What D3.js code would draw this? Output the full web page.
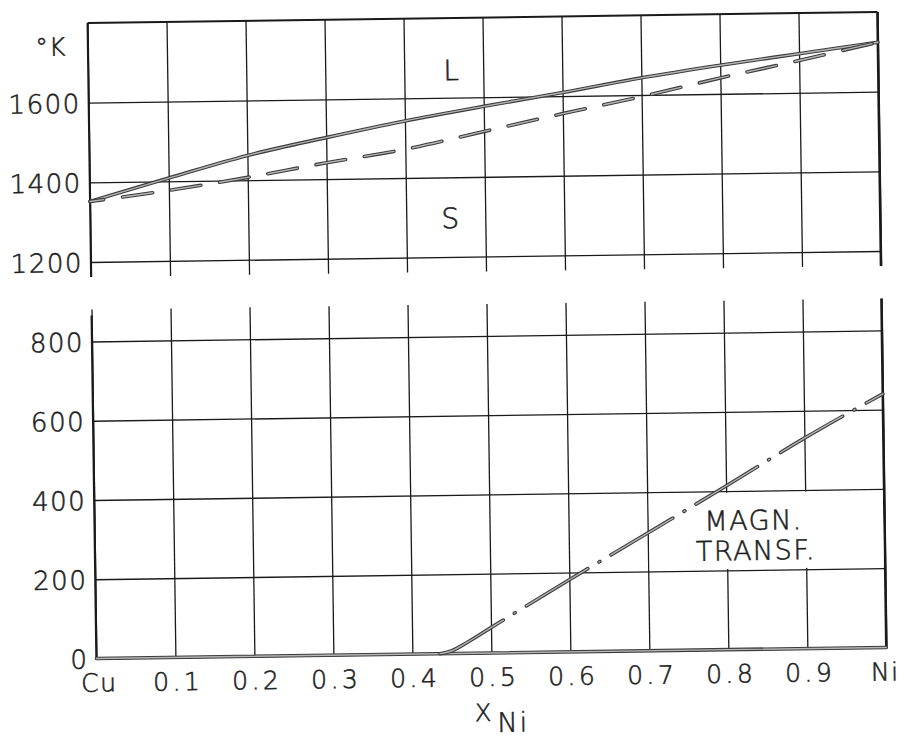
<!DOCTYPE html>
<html>
<head>
<meta charset="utf-8">
<script src="https://cdn.jsdelivr.net/npm/d3@7"></script>
<style>
  html, body { margin: 0; padding: 0; background: #fff; }
  svg { display: block; }
  text { font-family: "DejaVu Sans", "Noto Sans", sans-serif; font-weight: 200; fill: #1e1e1e;
         stroke: #1e1e1e; stroke-width: 0.55px; }
</style>
</head>
<body>
<svg id="chart" width="900" height="738"></svg>
<script>
// Cu–Ni: liquidus / solidus (upper panel) and magnetic transformation (lower panel)
const compX       = [0, 0.1, 0.2, 0.3, 0.4, 0.5, 0.6, 0.7, 0.8, 0.9, 1.0];
const liquidusK   = [1352, 1408, 1462, 1504, 1543, 1577, 1609, 1643, 1672, 1698, 1724];
const solidusK    = [1352, 1377, 1407, 1441, 1472, 1514, 1556, 1596, 1640, 1681, 1724];
const magnX       = [0.435, 0.45, 0.47, 0.5, 0.6, 0.7, 0.8, 0.9, 1.0];
const magnK       = [0, 7, 28, 64, 182, 297, 413, 531, 640];
const xTickLabels = ["Cu", "0.1", "0.2", "0.3", "0.4", "0.5", "0.6", "0.7", "0.8", "0.9", "Ni"];
const upperTicks  = [1200, 1400, 1600];
const lowerTicks  = [0, 200, 400, 600, 800];

const W = 900, H = 738;
const left = 92, right = 882;
const x  = d3.scaleLinear().domain([0, 1]).range([left, right]);
const yU = d3.scaleLinear().domain([1200, 1800]).range([256.5, 17.5]);
const yL = d3.scaleLinear().domain([0, 800]).range([653, 336]);
const upperStub = 15;   // vertical rules run a little below the 1200 line
const lowerTop = 304;   // top end of the lower panel's vertical rules
const ink = "#1a1a1a";

const svg = d3.select("#chart");
svg.append("rect").attr("width", W).attr("height", H).attr("fill", "#fff");
const g = svg.append("g").attr("transform", "rotate(-0.8,486,340)");

function styleGrid(sel) {
  sel.select(".domain").remove();
  sel.selectAll(".tick line").attr("stroke", ink).attr("stroke-width", 1.3);
}

// ---------- upper panel ----------
const upperBottom = yU(1200) + upperStub;
g.append("g")
  .attr("transform", `translate(0,${upperBottom})`)
  .call(d3.axisBottom(x).tickValues(compX).tickSize(-(upperBottom - yU(1800))).tickFormat(""))
  .call(styleGrid);

const upperAxis = g.append("g")
  .attr("transform", `translate(${left},0)`)
  .call(d3.axisLeft(yU).tickValues(upperTicks).tickSize(-(right - left)).tickPadding(8).tickFormat(d3.format("d")))
  .call(styleGrid);
upperAxis.selectAll(".tick text")
  .attr("font-size", 26).attr("letter-spacing", 1.5).attr("dy", "0.36em")
  .attr("font-family", null).attr("fill", "#1e1e1e");

// frame of the upper panel
g.append("line").attr("x1", left).attr("x2", right).attr("y1", yU(1800)).attr("y2", yU(1800))
  .attr("stroke", ink).attr("stroke-width", 2);
g.append("line").attr("x1", left).attr("x2", left).attr("y1", yU(1800)).attr("y2", upperBottom)
  .attr("stroke", ink).attr("stroke-width", 2);
g.append("line").attr("x1", right).attr("x2", right).attr("y1", yU(1800)).attr("y2", upperBottom)
  .attr("stroke", ink).attr("stroke-width", 2.6);

// ---------- lower panel ----------
const lowerX = g.append("g")
  .attr("transform", `translate(0,${yL(0)})`)
  .call(d3.axisBottom(x).tickValues(compX).tickSize(-(yL(0) - lowerTop)).tickFormat((d, i) => xTickLabels[i]))
  .call(styleGrid);
lowerX.selectAll(".tick text")
  .attr("font-size", 25).attr("letter-spacing", (d, i) => (i === 0 || i === 10) ? 1.5 : 3.5)
  .attr("y", 33).attr("dy", 0).attr("dx", (d, i) => i === 10 ? -2 : 2)
  .attr("font-family", null).attr("fill", "#1e1e1e");

const lowerAxis = g.append("g")
  .attr("transform", `translate(${left},0)`)
  .call(d3.axisLeft(yL).tickValues(lowerTicks).tickSize(-(right - left)).tickPadding(8).tickFormat(d3.format("d")))
  .call(styleGrid);
lowerAxis.selectAll(".tick text")
  .attr("font-size", 26).attr("letter-spacing", 1.5).attr("dy", "0.36em")
  .attr("font-family", null).attr("fill", "#1e1e1e");

g.append("line").attr("x1", left).attr("x2", left).attr("y1", lowerTop + 6).attr("y2", yL(0))
  .attr("stroke", ink).attr("stroke-width", 2.2);
g.append("line").attr("x1", right).attr("x2", right).attr("y1", lowerTop).attr("y2", yL(0))
  .attr("stroke", ink).attr("stroke-width", 2.6);

// ---------- pen strokes (dark rim, grey core) ----------
function penStroke(d, dash, offset) {
  [["#3c3c3c", 3.6], ["#b4b4b4", 1.4]].forEach(([c, w]) => {
    g.append("path").attr("d", d).attr("fill", "none")
      .attr("stroke", c).attr("stroke-width", w)
      .attr("stroke-linecap", "round").attr("stroke-linejoin", "round")
      .attr("stroke-dasharray", dash || null)
      .attr("stroke-dashoffset", offset || 0);
  });
}

// baseline of the lower panel
penStroke(d3.line()([[left, yL(0)], [right, yL(0)]]));

// label box for the magnetic transformation
g.append("rect")
  .attr("x", x(0.7) + 1.5).attr("y", yL(400) + 1.5)
  .attr("width", x(1) - x(0.7) - 3).attr("height", yL(200) - yL(400) - 3)
  .attr("fill", "#fff");

const upperLine = d3.line().x((d, i) => x(compX[i])).y(d => yU(d)).curve(d3.curveCatmullRom.alpha(0.5));
penStroke(upperLine(liquidusK));
penStroke(upperLine(solidusK), "30,19", 16);

const magnLine = d3.line().x((d, i) => x(magnX[i])).y(d => yL(d)).curve(d3.curveMonotoneX);
penStroke(magnLine(magnK), "72,13,1,13", 0);

// ---------- lettering ----------
function label(txt, px, py, size, ls) {
  return g.append("text").attr("x", px).attr("y", py).attr("font-size", size)
    .attr("letter-spacing", ls || 0).attr("text-anchor", "middle").text(txt);
}
label("°K", 55, 49.7, 25, 1);
label("L", 455, 79.7, 28);
label("S", 452, 227.7, 28);
label("MAGN.", 751, 533.5, 27, 1.5);
label("TRANSF.", 753, 563.6, 27, 1.5);
label("X", 478, 721, 24);
label("Ni", 508, 732, 27, 2);
</script>
</body>
</html>
